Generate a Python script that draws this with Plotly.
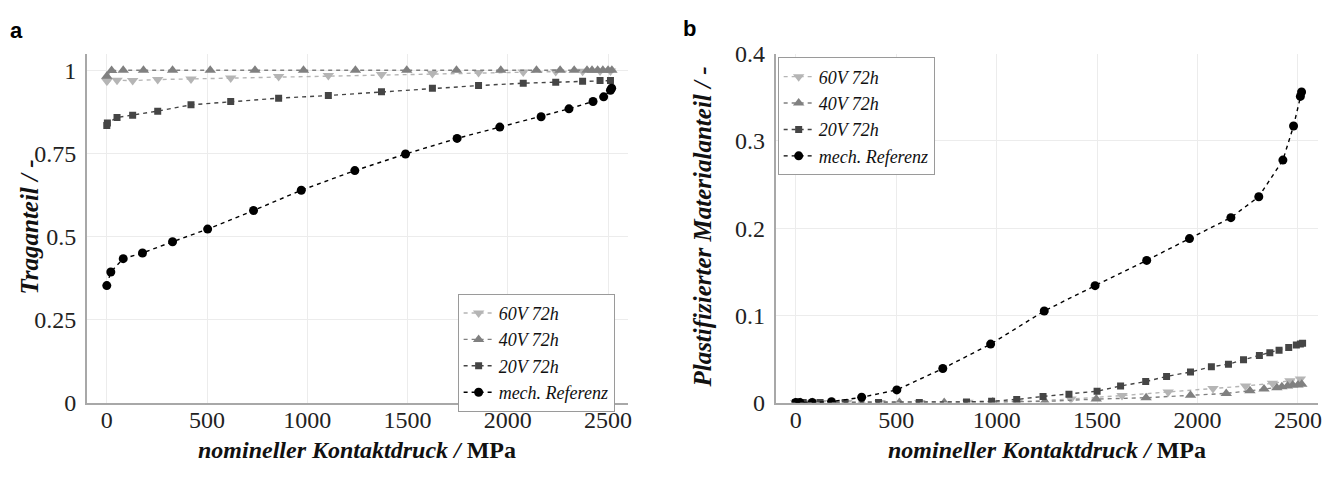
import plotly.graph_objects as go

# ---- Panel a: Traganteil ----
a_x_20_60 = [0, 3, 51, 129, 254, 420, 618, 857, 1105, 1370, 1624, 1854, 2077, 2239, 2373, 2460, 2512]
a_y_60v = [0.968, 0.969, 0.970, 0.969, 0.972, 0.974, 0.977, 0.981, 0.984, 0.987, 0.990, 0.993, 0.995, 0.996, 0.997, 0.998, 0.998]
a_y_20v = [0.834, 0.841, 0.858, 0.865, 0.877, 0.896, 0.906, 0.916, 0.924, 0.935, 0.946, 0.954, 0.961, 0.964, 0.967, 0.969, 0.969]
a_x_40v = [0, 24, 82, 183, 328, 516, 739, 981, 1240, 1496, 1744, 1965, 2143, 2261, 2331, 2395, 2420, 2448, 2474, 2500, 2519]
a_y_40v = [0.982, 0.999, 1.0, 1.0, 1.0, 1.0, 1.0, 1.0, 1.0, 1.0, 1.0, 1.0, 1.0, 1.0, 1.0, 1.0, 1.0, 1.0, 1.0, 1.0, 1.0]
mech_x = [0, 20, 82, 178, 328, 503, 732, 970, 1237, 1490, 1747, 1960, 2166, 2305, 2425, 2478, 2512, 2518]
a_y_mech = [0.352, 0.393, 0.433, 0.450, 0.484, 0.522, 0.578, 0.639, 0.698, 0.748, 0.795, 0.829, 0.860, 0.884, 0.906, 0.920, 0.940, 0.946]

# ---- Panel b: plastifizierter Materialanteil ----
b_y_60v = [0, 0, 0, 0, 0, 0, 0, 0.0003, 0.001, 0.004, 0.008, 0.012, 0.016, 0.019, 0.022, 0.025, 0.027]
b_y_40v = [0, 0, 0, 0, 0, 0, 0, 0.0005, 0.0012, 0.004, 0.0055, 0.0085, 0.0105, 0.0135, 0.0155, 0.017, 0.018, 0.019, 0.020, 0.020, 0.021]
b_x_20v = [0, 37, 121, 246, 412, 615, 850, 975, 1100, 1231, 1360, 1500, 1617, 1742, 1846, 1965, 2069, 2154, 2229, 2308, 2360, 2406, 2454, 2492, 2512, 2523]
b_y_20v = [0, 0, 0, 0, 0, 0, 0.0007, 0.0015, 0.0036, 0.007, 0.0095, 0.013, 0.019, 0.024, 0.030, 0.035, 0.041, 0.044, 0.049, 0.054, 0.057, 0.060, 0.063, 0.066, 0.067, 0.068]
b_y_mech = [0, 0, 0, 0.001, 0.006, 0.0145, 0.039, 0.067, 0.105, 0.134, 0.163, 0.188, 0.212, 0.236, 0.278, 0.317, 0.351, 0.356]

names = ["60V 72h", "40V 72h", "20V 72h", "mech. Referenz"]
colors = ["#b5b5b5", "#808080", "#454545", "#000000"]
symbols = ["triangle-down", "triangle-up", "square", "circle"]
msizes = [10, 10, 7, 9]

SERIF = "Liberation Serif"

fig = go.Figure()

series_a = [(a_x_20_60, a_y_60v), (a_x_40v, a_y_40v), (a_x_20_60, a_y_20v), (mech_x, a_y_mech)]
series_b = [(a_x_20_60, b_y_60v), (a_x_40v, b_y_40v), (b_x_20v, b_y_20v), (mech_x, b_y_mech)]

for series, xa, ya, leg in [(series_a, "x", "y", "legend"), (series_b, "x2", "y2", "legend2")]:
    for i, (xs, ys) in enumerate(series):
        fig.add_trace(go.Scatter(
            x=xs, y=ys, name="<i>" + names[i] + "</i>", mode="lines+markers",
            xaxis=xa, yaxis=ya, legend=leg,
            line=dict(color=colors[i], width=1.4, dash="4px,4px"),
            marker=dict(symbol=symbols[i], size=msizes[i], color=colors[i]),
        ))

W, H = 1338, 477
def px_x(p):
    return p / W
def px_y(p):
    return 1 - p / H

axis_common = dict(
    showline=True, linecolor="#a8a8a8", linewidth=1.5,
    showgrid=True, gridcolor="#ececec", gridwidth=1,
    zeroline=False, ticks="", mirror=False,
    tickfont=dict(family=SERIF, size=24, color="#222"),
)

legend_common = dict(
    xanchor="left", yanchor="top",
    bgcolor="white", bordercolor="#9a9a9a", borderwidth=1,
    font=dict(family=SERIF, size=18, color="#111"), itemwidth=30,
    tracegroupgap=0,
)

fig.update_layout(
    width=W, height=H,
    margin=dict(l=0, r=0, t=0, b=0),
    paper_bgcolor="white", plot_bgcolor="white",
    font=dict(family=SERIF, color="#222"),
    xaxis=dict(domain=[px_x(87), px_x(630)], range=[-100, 2600], ticklabelstandoff=-5,
               tickvals=[0, 500, 1000, 1500, 2000, 2500], anchor="y", **axis_common),
    yaxis=dict(domain=[px_y(412), px_y(43)], range=[0, 1.05], ticklabelstandoff=4,
               tickvals=[0, 0.25, 0.5, 0.75, 1], ticktext=["0", "0.25", "0.5", "0.75", "1"],
               anchor="x", **axis_common),
    xaxis2=dict(domain=[px_x(778), px_x(1322)], range=[-100, 2600], ticklabelstandoff=-5,
                tickvals=[0, 500, 1000, 1500, 2000, 2500], anchor="y2", **axis_common),
    yaxis2=dict(domain=[px_y(412), px_y(43)], range=[0, 0.4], ticklabelstandoff=4,
                tickvals=[0, 0.1, 0.2, 0.3, 0.4], ticktext=["0", "0.1", "0.2", "0.3", "0.4"],
                anchor="x2", **axis_common),
    legend=dict(x=px_x(459), y=px_y(297), **legend_common),
    legend2=dict(x=px_x(780), y=px_y(47), **legend_common),
    showlegend=True,
)

# axis titles, anchored to the bottom edge of the figure
title_font = dict(family=SERIF, size=24, color="#111")
xtitle = "<b><i>nomineller Kontaktdruck /</i> MPa</b>"
for x0, x1 in [(87, 630), (778, 1322)]:
    fig.add_annotation(text=xtitle, x=(px_x(x0) + px_x(x1)) / 2, y=0, xref="paper", yref="paper",
                       showarrow=False, font=title_font, xanchor="center", yanchor="bottom",
                       borderpad=0)
fig.add_annotation(text="<b><i>Traganteil / -</i></b>", x=px_x(30), y=px_y(226), xref="paper", yref="paper",
                   showarrow=False, font=dict(family=SERIF, size=25, color="#111"), textangle=-90,
                   xanchor="center", yanchor="middle")
fig.add_annotation(text="<b><i>Plastifizierter Materialanteil / -</i></b>", x=px_x(705), y=px_y(226),
                   xref="paper", yref="paper",
                   showarrow=False, font=dict(family=SERIF, size=25, color="#111"), textangle=-90,
                   xanchor="center", yanchor="middle")

label_font = dict(family="Liberation Sans", size=22, color="#000")
fig.add_annotation(text="<b>a</b>", x=px_x(8), y=px_y(18), xref="paper", yref="paper",
                   showarrow=False, font=label_font, xanchor="left", yanchor="middle")
fig.add_annotation(text="<b>b</b>", x=px_x(683), y=px_y(16), xref="paper", yref="paper",
                   showarrow=False, font=label_font, xanchor="left", yanchor="middle")

fig.write_html("out.html")
